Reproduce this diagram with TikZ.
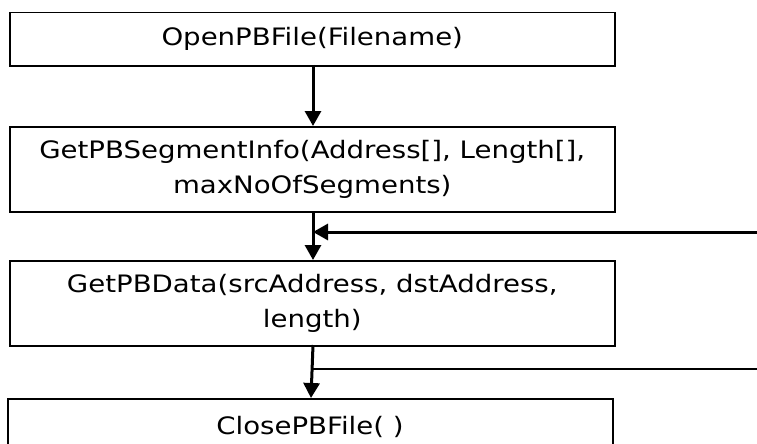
\documentclass[tikz,border=0pt]{standalone}
\usepackage{fontspec}
\setmainfont{DejaVu Sans}[FakeStretch=1.15]
\usetikzlibrary{arrows.meta}
\begin{document}
\begin{tikzpicture}[x=1pt,y=-1pt,
  stepbox/.style={draw, line width=1.5pt, anchor=north west, inner sep=0pt, align=center,
    font=\fontsize{24}{34.5}\selectfont},
  flow/.style={line width=3pt, -{Triangle[width=16pt,length=15pt]}},
  thinline/.style={line width=1.5pt}]
\clip (0,0) rectangle (757,444);
\useasboundingbox (0,0) rectangle (757,444);
\node[stepbox, minimum width=605pt, minimum height=53pt] (b1) at (9,12) {OpenPBFile(Filename)};
\node[stepbox, minimum width=605pt, minimum height=85pt] (b2) at (9,126) {GetPBSegmentInfo(Address[], Length[],\\maxNoOfSegments)};
\node[stepbox, minimum width=605pt, minimum height=85pt] (b3) at (9,260) {GetPBData(srcAddress, dstAddress,\\length)};
\node[stepbox, minimum width=605pt, minimum height=60pt] (b4) at (7,398) {};
\node[font=\fontsize{24}{34.5}\selectfont, anchor=base, inner sep=0pt] (t4) at (310,434) {ClosePBFile( )};
\coordinate (j1) at (313,232);
\coordinate (r1) at (757,232);
\coordinate (j2) at (313,369);
\coordinate (r2) at (757,369);
\draw[flow] (313,65) -- (313,126);
\draw[flow] (313,211) -- (313,260);
\draw[flow] (313,345) -- (311,398);
\draw[flow] (r1) -- (j1);
\draw[thinline] (j2) -- (r2);
\end{tikzpicture}
\end{document}
